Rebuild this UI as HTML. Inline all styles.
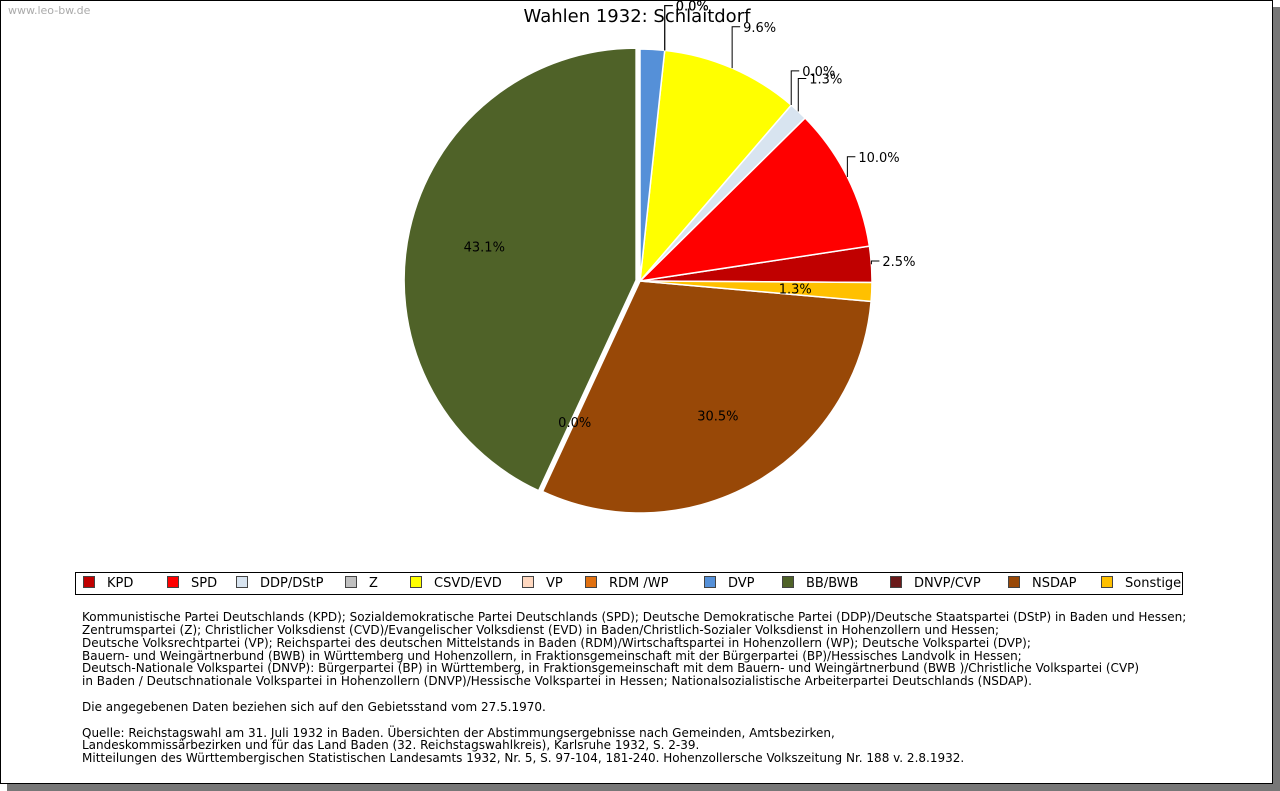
<!DOCTYPE html>
<html><head><meta charset="utf-8"><style>
body{margin:0;width:1280px;height:791px;background:#fff;overflow:hidden;font-family:"DejaVu Sans","Liberation Sans",sans-serif;}
#frame{position:absolute;left:0;top:0;width:1271px;height:782px;border:1px solid #000;box-shadow:7px 7px 0 #777;background:#fff;}
#wm{position:absolute;left:8px;top:4px;font-size:11px;color:#aaa;}
#legend{position:absolute;left:75px;top:572px;width:1106px;height:21px;border:1px solid #000;font-size:13px;}
.li{position:absolute;top:3px;white-space:nowrap;}
.sw{display:inline-block;width:10px;height:10px;border:1px solid #444;vertical-align:-1px;margin-right:12px;}
#notes{position:absolute;left:82px;top:611px;font-size:12px;line-height:12.85px;color:#000;white-space:pre;}
</style></head><body>
<div id="frame"></div>
<div id="wm">www.leo-bw.de</div>
<svg id="pie" width="1280" height="600" style="position:absolute;left:0;top:0">
<text x="637" y="22" font-size="18" text-anchor="middle" font-family="DejaVu Sans, sans-serif">Wahlen 1932: Schlaitdorf</text>
</svg>
<div id="legend"></div>
<div id="notes">Kommunistische Partei Deutschlands (KPD); Sozialdemokratische Partei Deutschlands (SPD); Deutsche Demokratische Partei (DDP)/Deutsche Staatspartei (DStP) in Baden und Hessen;
Zentrumspartei (Z); Christlicher Volksdienst (CVD)/Evangelischer Volksdienst (EVD) in Baden/Christlich-Sozialer Volksdienst in Hohenzollern und Hessen;
Deutsche Volksrechtpartei (VP); Reichspartei des deutschen Mittelstands in Baden (RDM)/Wirtschaftspartei in Hohenzollern (WP); Deutsche Volkspartei (DVP);
Bauern- und Weingärtnerbund (BWB) in Württemberg und Hohenzollern, in Fraktionsgemeinschaft mit der Bürgerpartei (BP)/Hessisches Landvolk in Hessen;
Deutsch-Nationale Volkspartei (DNVP): Bürgerpartei (BP) in Württemberg, in Fraktionsgemeinschaft mit dem Bauern- und Weingärtnerbund (BWB )/Christliche Volkspartei (CVP)
in Baden / Deutschnationale Volkspartei in Hohenzollern (DNVP)/Hessische Volkspartei in Hessen; Nationalsozialistische Arbeiterpartei Deutschlands (NSDAP).

Die angegebenen Daten beziehen sich auf den Gebietsstand vom 27.5.1970.

Quelle: Reichstagswahl am 31. Juli 1932 in Baden. Übersichten der Abstimmungsergebnisse nach Gemeinden, Amtsbezirken,
Landeskommissärbezirken und für das Land Baden (32. Reichstagswahlkreis), Karlsruhe 1932, S. 2-39.
Mitteilungen des Württembergischen Statistischen Landesamts 1932, Nr. 5, S. 97-104, 181-240. Hohenzollersche Volkszeitung Nr. 188 v. 2.8.1932.</div>
<script>
const categories=["KPD","SPD","DDP/DStP","Z","CSVD/EVD","VP","RDM /WP","DVP","BB/BWB","DNVP/CVP","NSDAP","Sonstige"];
const values=[2.5,10.0,1.3,0.0,9.6,0.0,0.0,1.7,43.1,0.0,30.5,1.3];
const labels=["2.5%","10.0%","1.3%","0.0%","9.6%","0.0%","0.0%","","43.1%","0.0%","30.5%","1.3%"];
const colors=["#c00000","#ff0000","#d8e4f0","#c0c0c0","#ffff00","#ffd8c0","#e07010","#5590d8","#4f6228","#6a1a1a","#984807","#ffc000"];
const inside=[false,false,false,false,false,false,false,false,true,true,true,true];
const exploded=[false,false,false,false,false,false,false,false,true,false,false,false];
const NS="http://www.w3.org/2000/svg";
const svg=document.getElementById('pie');
const cx=640,cy=281,R=232;
const total=values.reduce((a,b)=>a+b,0);
let before=0;for(let i=0;i<8;i++)before+=values[i];
const start=before/total*360-90;
const rad=d=>d*Math.PI/180;
let cum=0;
const pending=[];
categories.forEach((c,i)=>{
  const a0=start-cum/total*360, a1=a0-values[i]/total*360; cum+=values[i];
  const mid=(a0+a1)/2;
  const off=exploded[i]?4:0;
  const ox=cx+off*Math.cos(rad(mid)), oy=cy+off*Math.sin(rad(mid));
  if(values[i]>0){
    const p=document.createElementNS(NS,'path');
    const x0=ox+R*Math.cos(rad(a0)),y0=oy+R*Math.sin(rad(a0)),x1=ox+R*Math.cos(rad(a1)),y1=oy+R*Math.sin(rad(a1));
    const large=(a0-a1)>180?1:0;
    p.setAttribute('d',`M${ox},${oy}L${x0},${y0}A${R},${R} 0 ${large} 0 ${x1},${y1}Z`);
    p.setAttribute('fill',colors[i]);p.setAttribute('stroke','#fff');p.setAttribute('stroke-width','1.5');
    
    
    svg.appendChild(p);
  }
  if(labels[i])pending.push({i,mid,ox,oy});
});
pending.forEach(({i,mid,ox,oy})=>{
  const t=document.createElementNS(NS,'text');
  t.setAttribute('font-size','13');t.setAttribute('font-family','DejaVu Sans, sans-serif');
  t.textContent=labels[i];
  if(inside[i]){
    const r=0.67*R;
    t.setAttribute('x',ox+r*Math.cos(rad(mid)));t.setAttribute('y',oy+r*Math.sin(rad(mid))+5);
    t.setAttribute('text-anchor','middle');
  }else{
    const ex=cx+R*Math.cos(rad(mid)),ey=cy+R*Math.sin(rad(mid));
    const by=ey+45*Math.sin(rad(mid));
    const l=document.createElementNS(NS,'polyline');
    l.setAttribute('points',`${ex},${ey} ${ex},${by} ${ex+8},${by}`);
    l.setAttribute('fill','none');l.setAttribute('stroke','#000');
    
    
    svg.appendChild(l);
    t.setAttribute('x',ex+11);t.setAttribute('y',by+5);
  }
  
  
  svg.appendChild(t);
});
const lg=document.getElementById('legend');
const lx=[7,91,160,269,334,446,509,628,706,814,932,1025];
categories.forEach((c,i)=>{
  const d=document.createElement('div');d.className='li';d.style.left=lx[i]+'px';
  d.innerHTML=`<span class="sw" style="background:${colors[i]}"></span>${c}`;
  
  
  lg.appendChild(d);
});
</script>
</body></html>
